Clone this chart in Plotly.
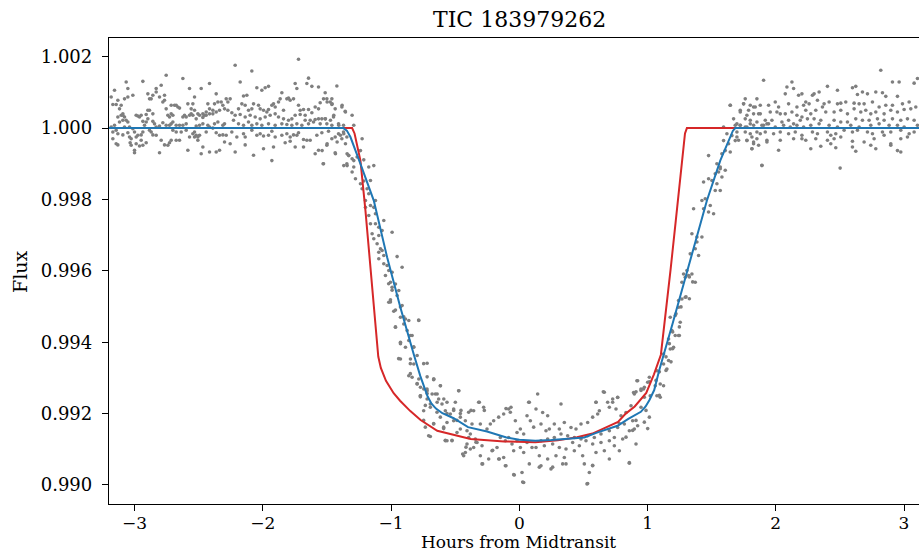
import plotly.graph_objects as go

# ---------------- data (hours from midtransit, relative flux) ----------------
pre_a = [(-3.183,1.00087),(-3.157,1.00106),(-3.170,1.00066),(-3.144,1.00066),(-3.105,1.00064),(-3.118,1.00054),
(-3.079,1.00082),(-3.066,1.00129),(-3.053,1.00111),(-3.053,1.00087),(-3.092,1.00040),(-3.105,1.00036),(-3.131,1.00031),
(-3.079,1.00031),(-3.157,1.00008),(-3.183,1.00003),(-3.170,0.99989),(-3.144,0.99994),(-3.131,0.99984),(-3.170,0.99970),
(-3.131,0.99953),(-3.092,0.99981),(-3.053,0.99987),(-3.040,0.99975),(-3.027,0.99970),(-3.035,0.99959),(-3.027,0.99952),
(-3.001,0.99938),(-3.001,0.99931),(-2.988,0.99956),(-2.962,0.99950),(-2.949,0.99981),(-2.936,0.99989),(-2.923,1.00008),
(-2.910,1.00017),(-2.897,1.00026),(-2.910,1.00038),(-2.897,1.00050),(-2.884,1.00082),(-2.897,1.00096),(-2.871,1.00082),
(-2.858,1.00092),(-2.832,1.00111),(-2.832,1.00101),(-2.793,1.00120),(-2.806,1.00087),(-2.780,1.00073),(-2.767,1.00078),
(-2.754,1.00148),(-2.754,1.00054),(-2.741,1.00036),(-2.728,1.00031),(-2.715,1.00064),(-2.689,1.00064),(-2.663,1.00059),
(-2.650,1.00056),(-2.624,1.00139),(-2.624,1.00031),(-2.611,1.00036),(-2.598,1.00031),(-2.585,1.00068),(-2.572,1.00111),
(-2.559,1.00054),(-2.546,1.00068),(-2.533,1.00087),(-2.520,1.00026),(-2.533,0.99989),(-2.520,0.99980),(-2.507,0.99975),
(-2.494,0.99980),(-2.481,1.00111),(-2.468,1.00040),(-2.455,1.00036),(-2.442,1.00036),(-2.429,1.00068),(-2.416,1.00125),
(-2.416,1.00040),(-2.390,1.00040),(-2.377,1.00068),(-2.364,1.00096),(-2.364,1.00045),(-2.351,1.00073),(-2.338,1.00050),
(-2.325,1.00073),(-2.312,1.00064),(-2.299,1.00054),(-2.286,1.00082),(-2.273,1.00073),(-2.273,1.00050),(-2.299,1.00012),
(-2.312,1.00008),(-2.286,0.99980),(-2.299,0.99961),(-2.338,0.99938),(-2.364,0.99933),(-2.416,0.99933),(-2.481,0.99928),
(-2.468,0.99947),(-2.507,0.99966),(-2.533,0.99975),(-2.572,0.99975),(-2.585,0.99938),(-2.637,0.99989),(-2.650,0.99966),
(-2.676,0.99966),(-2.676,0.99989),(-2.702,0.99994),(-2.715,0.99966),(-2.728,0.99959),(-2.741,0.99952),(-2.767,0.99953),
(-2.793,0.99966),(-2.806,0.99931),(-2.832,0.99980),(-2.858,0.99981),(-2.871,0.99989),(-2.884,0.99994),(-2.910,0.99959),
(-2.936,0.99952),(-2.949,0.99966),(-2.975,0.99980),(-2.988,0.99975),(-3.001,0.99989),(-3.014,0.99998),(-3.040,1.00003),
(-3.053,1.00017),(-3.066,1.00022),(-3.092,1.00022),(-3.118,1.00017),(-3.079,1.00003),(-3.144,0.99956),(-3.092,1.00036),
(-2.988,1.00036),(-2.975,1.00034),(-2.962,1.00031),(-2.949,1.00036),(-2.936,1.00019),(-2.858,1.00019),(-2.845,1.00012),
(-2.832,1.00003),(-2.806,1.00006),(-2.780,1.00015),(-2.754,1.00008),(-2.728,1.00008),(-2.715,1.00012),(-2.702,1.00017),
(-2.676,1.00008),(-2.650,1.00008),(-2.624,1.00008),(-2.598,1.00012),(-2.572,1.00036),(-2.559,1.00040),(-2.546,1.00036),
(-2.533,1.00050),(-2.507,1.00040),(-2.494,1.00036),(-2.468,1.00030),(-2.442,1.00045),(-2.416,1.00054),(-2.390,1.00050),
(-2.715,1.00040),(-2.702,1.00036),(-2.676,1.00064),(-2.767,1.00092),(-2.858,1.00040),(-2.884,1.00050),(-3.014,1.00092),
(-2.936,1.00131),(-3.131,1.00078),(-2.598,0.99994),(-2.546,0.99984),(-2.442,0.99989),(-2.429,1.00008),(-2.390,1.00000),
(-2.364,0.99987),(-2.338,0.99980),(-2.312,0.99981),(-2.351,1.00017),(-2.468,1.00012),(-2.520,1.00006),(-2.494,1.00008),
(-2.416,1.00003),(-2.377,1.00012)]

pre_b = [(-2.216,1.00176),(-2.086,1.00160),(-1.722,1.00193),(-2.177,1.00129),(-2.047,1.00113),(-2.008,1.00106),
(-1.982,1.00113),(-1.956,1.00117),(-1.852,1.00099),(-1.748,1.00125),(-1.735,1.00111),(-1.657,1.00125),(-1.644,1.00140),
(-1.618,1.00117),(-1.566,1.00115),(-1.514,1.00099),(-1.423,1.00118),(-2.255,1.00082),(-2.151,1.00090),(-2.125,1.00092),
(-2.164,1.00068),(-2.190,1.00054),(-2.138,1.00064),(-2.112,1.00050),(-2.086,1.00054),(-2.073,1.00068),(-2.034,1.00064),
(-2.021,1.00054),(-1.995,1.00050),(-1.969,1.00045),(-1.956,1.00052),(-1.930,1.00064),(-1.917,1.00068),(-1.904,1.00059),
(-1.878,1.00073),(-1.865,1.00082),(-1.839,1.00050),(-1.813,1.00082),(-1.800,1.00084),(-1.787,1.00078),(-1.761,1.00082),
(-1.722,1.00064),(-1.709,1.00050),(-1.683,1.00052),(-1.670,1.00036),(-1.644,1.00052),(-1.618,1.00043),(-1.592,1.00059),
(-1.566,1.00054),(-1.553,1.00071),(-1.527,1.00082),(-1.501,1.00082),(-1.475,1.00073),(-1.462,1.00066),(-1.462,1.00082),
(-1.436,1.00054),(-1.384,1.00059),(-1.358,1.00047),(-1.449,1.00031),(-1.514,1.00026),(-1.540,1.00026),(-1.566,1.00026),
(-1.592,1.00024),(-1.631,1.00022),(-1.670,1.00022),(-1.709,1.00038),(-1.748,1.00036),(-1.774,1.00026),(-1.800,1.00022),
(-1.839,1.00026),(-1.878,1.00031),(-1.904,1.00040),(-1.943,1.00036),(-1.982,1.00031),(-2.021,1.00026),(-2.060,1.00031),
(-2.099,1.00036),(-2.138,1.00031),(-2.177,1.00038),(-2.216,1.00036),(-2.242,1.00043),(-2.229,1.00022),(-2.190,1.00012),
(-2.151,1.00008),(-2.112,1.00017),(-2.086,1.00008),(-2.047,1.00012),(-2.008,1.00008),(-1.956,1.00012),(-1.904,1.00008),
(-1.852,1.00012),(-1.813,1.00010),(-1.774,1.00008),(-1.735,1.00012),(-1.696,1.00008),(-1.644,1.00012),(-1.605,1.00017),
(-1.553,1.00012),(-1.501,1.00012),(-1.462,1.00008),(-1.410,1.00012),(-1.371,1.00008),(-2.242,0.99989),(-2.203,0.99975),
(-2.151,0.99984),(-2.138,0.99975),(-2.086,0.99994),(-2.047,0.99980),(-2.021,0.99984),(-1.995,0.99978),(-1.956,0.99980),
(-1.930,0.99991),(-1.904,0.99975),(-1.852,0.99980),(-1.813,0.99984),(-1.787,0.99975),(-1.761,0.99981),(-1.735,0.99980),
(-1.722,0.99987),(-1.683,0.99968),(-1.657,0.99966),(-1.631,0.99966),(-1.579,0.99980),(-1.540,0.99987),(-1.488,0.99991),
(-1.436,0.99975),(-1.410,0.99984),(-2.255,0.99956),(-2.138,0.99953),(-1.995,0.99942),(-1.917,0.99947),(-1.826,0.99959),
(-1.787,0.99963),(-1.748,0.99947),(-1.683,0.99947),(-1.592,0.99928),(-1.566,0.99938),(-1.501,0.99952),(-2.216,0.99933),
(-2.073,0.99924),(-1.930,0.99909),(-1.527,0.99900),(-1.436,0.99931),(-1.462,0.99970),(-1.384,0.99970),(-1.371,0.99989),
(-1.345,0.99975),(-1.332,0.99924),(-1.345,0.99900)]

ingress = [(-1.499,1.00073),(-1.460,1.00068),(-1.382,1.00064),(-1.447,1.00036),(-1.512,1.00026),(-1.473,1.00022),
(-1.356,1.00045),(-1.304,1.00036),(-1.291,1.00008),(-1.408,1.00008),(-1.395,0.99980),(-1.369,0.99984),(-1.499,0.99956),
(-1.421,0.99961),(-1.538,0.99937),(-1.434,0.99928),(-1.343,0.99928),(-1.356,0.99956),(-1.330,0.99923),(-1.291,0.99909),
(-1.226,0.99970),(-1.239,0.99937),(-1.265,0.99919),(-1.304,0.99914),(-1.530,0.99900),(-1.369,0.99895),(-1.343,0.99895),
(-1.291,0.99891),(-1.304,0.99877),(-1.213,0.99911),(-1.174,0.99891),(-1.135,0.99895),(-1.278,0.99858),(-1.239,0.99844),
(-1.213,0.99852),(-1.161,0.99853),(-1.226,0.99830),(-1.187,0.99830),(-1.200,0.99797),(-1.174,0.99816),(-1.122,0.99797),
(-1.161,0.99783),(-1.135,0.99778),(-1.200,0.99778),(-1.174,0.99755),(-1.122,0.99760),(-1.057,0.99741),(-1.161,0.99732),
(-1.122,0.99732),(-1.096,0.99722),(-1.148,0.99704),(-1.070,0.99713),(-0.992,0.99708),(-1.135,0.99690),(-1.096,0.99699),
(-1.109,0.99676),(-1.083,0.99662),(-1.096,0.99652),(-1.070,0.99657),(-1.057,0.99643),(-0.953,0.99640),(-1.096,0.99634),
(-1.057,0.99620),(-1.031,0.99615),(-1.018,0.99601),(-0.992,0.99596),(-1.044,0.99587),(-0.914,0.99610),(-1.005,0.99568),
(-0.966,0.99563),(-0.992,0.99554),(-0.940,0.99545),(-1.018,0.99512),(-1.005,0.99519),(-0.953,0.99531),(-0.979,0.99487),
(-0.914,0.99503),(-0.927,0.99470),(-0.888,0.99465),(-0.862,0.99461),(-0.966,0.99442),(-0.901,0.99451),(-0.875,0.99433),
(-0.836,0.99419),(-0.927,0.99400),(-0.862,0.99405),(-0.888,0.99386),(-0.823,0.99386),(-0.784,0.99461),(-0.797,0.99363),
(-0.849,0.99353),(-0.927,0.99353),(-0.823,0.99339),(-0.719,0.99341),(-0.862,0.99306),(-0.836,0.99302),(-0.784,0.99297),
(-0.797,0.99283),(-0.667,0.99297),(-0.771,0.99274),(-0.745,0.99269),(-0.719,0.99264),(-0.680,0.99255),(-0.641,0.99255),
(-0.615,0.99278),(-0.771,0.99250),(-0.719,0.99241),(-0.589,0.99241),(-0.472,0.99264),
(-1.019,0.99564),(-0.992,0.99546),(-1.005,0.99513),(-0.966,0.99490),(-0.927,0.99499),(-0.901,0.99471),(-0.966,0.99443),
(-0.850,0.99419),(-0.927,0.99396),(-0.824,0.99387),(-0.785,0.99462),(-0.941,0.99354),(-0.850,0.99340),(-0.746,0.99340),
(-0.850,0.99312),(-0.797,0.99284),(-0.719,0.99303),(-0.668,0.99295),(-0.772,0.99247),(-0.719,0.99256),(-0.733,0.99223),
(-0.694,0.99218),(-0.641,0.99232),(-0.564,0.99232),(-0.746,0.99181),(-0.668,0.99172),(-0.616,0.99190),(-0.564,0.99200),
(-0.512,0.99209),(-0.694,0.99136),(-0.577,0.99125),(-0.525,0.99125),(-0.590,0.99158),(-0.486,0.99181),(-0.460,0.99200)]

bottom = [(-0.772,0.99250),(-0.720,0.99269),(-0.668,0.99297),(-0.616,0.99278),(-0.655,0.99255),(-0.694,0.99227),
(-0.746,0.99208),(-0.629,0.99241),(-0.603,0.99227),(-0.642,0.99204),(-0.577,0.99208),(-0.538,0.99199),(-0.512,0.99213),
(-0.499,0.99232),(-0.473,0.99264),(-0.564,0.99175),(-0.512,0.99180),(-0.460,0.99190),(-0.421,0.99180),(-0.395,0.99204),
(-0.356,0.99208),(-0.317,0.99232),(-0.278,0.99218),(-0.304,0.99171),(-0.369,0.99171),(-0.408,0.99152),(-0.460,0.99157),
(-0.486,0.99147),(-0.590,0.99162),(-0.668,0.99171),(-0.733,0.99162),(-0.707,0.99138),(-0.577,0.99124),(-0.525,0.99124),
(-0.382,0.99143),(-0.343,0.99129),(-0.330,0.99119),(-0.252,0.99157),(-0.226,0.99171),(-0.200,0.99180),(-0.161,0.99190),
(-0.122,0.99199),(-0.083,0.99213),(-0.070,0.99204),(-0.031,0.99180),(0.008,0.99157),(-0.018,0.99147),(0.034,0.99143),
(0.073,0.99232),(0.086,0.99180),(0.060,0.99194),(0.112,0.99162),(-0.148,0.99133),(-0.109,0.99124),(-0.057,0.99115),
(-0.174,0.99105),(-0.213,0.99096),(-0.291,0.99110),(-0.356,0.99105),(-0.408,0.99115),(-0.421,0.99091),(-0.382,0.99101),
(-0.304,0.99082),(-0.239,0.99073),(-0.161,0.99073),(-0.122,0.99077),(-0.044,0.99096),(0.008,0.99105),(0.034,0.99091),
(0.099,0.99105),(-0.291,0.99059),(-0.109,0.99054),(-0.044,0.99029),(0.021,0.99035),(0.034,0.99007),(-0.434,0.99082),
(-0.395,0.99133),(-0.564,0.99124),(-0.083,0.99133),(-0.018,0.99124),(0.060,0.99119),
(0.143,0.99255),(0.130,0.99213),(0.182,0.99203),(0.221,0.99194),(0.325,0.99227),(0.169,0.99171),(0.208,0.99152),
(0.234,0.99157),(0.273,0.99171),(0.312,0.99157),(0.351,0.99175),(0.403,0.99161),(0.442,0.99157),(0.481,0.99171),
(0.533,0.99175),(0.572,0.99190),(0.611,0.99199),(0.598,0.99232),(0.663,0.99260),(0.624,0.99208),(0.689,0.99232),
(0.728,0.99241),(0.767,0.99246),(0.754,0.99213),(0.793,0.99194),(0.832,0.99203),(0.871,0.99222),(0.897,0.99255),
(0.923,0.99292),(0.949,0.99269),(0.975,0.99274),(1.001,0.99288),(1.014,0.99302),(0.975,0.99246),(0.949,0.99218),
(0.884,0.99180),(0.897,0.99157),(0.923,0.99166),(0.819,0.99171),(0.767,0.99161),(0.702,0.99152),(0.637,0.99143),
(0.585,0.99133),(0.533,0.99138),(0.481,0.99129),(0.429,0.99133),(0.377,0.99138),(0.325,0.99143),(0.273,0.99133),
(0.221,0.99129),(0.169,0.99124),(0.130,0.99105),(0.195,0.99110),(0.260,0.99115),(0.312,0.99105),(0.364,0.99101),
(0.416,0.99119),(0.468,0.99110),(0.520,0.99124),(0.572,0.99115),(0.637,0.99119),(0.702,0.99124),(0.741,0.99133),
(0.806,0.99129),(0.858,0.99152),(0.741,0.99110),(0.663,0.99096),(0.598,0.99091),(0.494,0.99082),(0.429,0.99096),
(0.351,0.99077),(0.286,0.99082),(0.221,0.99073),(0.156,0.99082),(0.247,0.99045),(0.169,0.99054),(0.364,0.99059),
(0.507,0.99059),(0.572,0.99054),(0.702,0.99073),(0.858,0.99063),(0.546,0.99035),(0.533,0.99004),(0.780,0.99096),
(0.910,0.99115),
(0.598,0.99232),(0.655,0.99261),(0.702,0.99218),(0.728,0.99232),(0.767,0.99245),(0.780,0.99172),(0.832,0.99134),
(0.528,0.99003),(0.572,0.99055),(0.026,0.99008),(-0.039,0.99028),(0.078,0.99232),(-0.104,0.99214),(-0.065,0.99218),
(-0.312,0.99232),(-0.273,0.99209),(-0.377,0.99209),(-0.455,0.99209),(-0.442,0.99087),(-0.286,0.99059),(-0.104,0.99054),
(-0.156,0.99073),(0.156,0.99050),(0.260,0.99050),(0.338,0.99059),(-0.338,0.99120),(-0.416,0.99106),(-0.208,0.99097),
(0.078,0.99059)]

egress = [(0.917,0.99292),(0.891,0.99259),(0.969,0.99269),(1.021,0.99250),(1.073,0.99250),(1.099,0.99246),(1.060,0.99278),
(1.099,0.99283),(1.125,0.99278),(1.073,0.99320),(1.125,0.99339),(1.151,0.99325),(1.164,0.99349),(1.125,0.99367),
(1.177,0.99381),(1.203,0.99386),(1.164,0.99409),(1.216,0.99419),(1.242,0.99419),(1.190,0.99433),(1.255,0.99456),
(1.177,0.99470),(1.216,0.99475),(1.242,0.99498),(1.268,0.99521),(1.294,0.99526),(1.242,0.99517),(1.268,0.99568),
(1.294,0.99582),(1.320,0.99587),(1.372,0.99568),(1.281,0.99591),(1.307,0.99601),(1.346,0.99591),(1.333,0.99648),
(1.372,0.99662),(1.385,0.99681),(1.398,0.99643),(1.346,0.99704),(1.385,0.99695),(1.424,0.99695),(1.359,0.99774),
(1.424,0.99797),(1.450,0.99802),(1.437,0.99774),(1.476,0.99765),(1.489,0.99783),(1.515,0.99760),(1.437,0.99849),
(1.476,0.99858),(1.502,0.99853),(1.528,0.99825),(1.541,0.99844),(1.567,0.99825),(1.528,0.99872),(1.554,0.99877),
(1.580,0.99863),(1.541,0.99900),(1.567,0.99886),(1.606,0.99882),(1.476,0.99923),(1.580,0.99928),(1.606,0.99937),
(1.632,0.99956),(1.645,0.99933),(1.593,0.99965),(1.619,0.99984),(1.658,0.99979),(1.684,0.99965),(1.697,0.99975),
(1.567,0.99891),(1.593,1.00003),(1.684,1.00008),(1.723,1.00008),(1.762,1.00003),(1.775,0.99965),(1.814,0.99975),
(1.827,0.99956),(1.814,0.99942),(1.853,0.99970),(1.892,0.99895),(1.931,0.99961),(1.723,1.00050),(1.775,1.00036),
(1.827,1.00059),(1.866,1.00040),(1.645,1.00064),(1.749,1.00068),(1.801,1.00012),(1.905,1.00008),(1.931,1.00012),
(1.879,0.99984),
(1.352,0.99569),(1.326,0.99583),(1.300,0.99527),(1.326,0.99522),(1.261,0.99499),(1.222,0.99480),(1.248,0.99443),
(1.196,0.99429),(1.248,0.99419),(1.170,0.99396),(1.196,0.99382),(1.144,0.99359),(1.183,0.99345),(1.092,0.99317),
(1.144,0.99321),(1.066,0.99293),(1.092,0.99251),(1.014,0.99289),(0.949,0.99265),(0.910,0.99261),(0.988,0.99209),
(1.014,0.99190),(0.975,0.99176),(1.001,0.99158),(0.910,0.99181),(0.884,0.99153),(0.858,0.99061)]

post = [(1.905,1.00134),(2.087,1.00115),(2.126,1.00129),(2.139,1.00111),(2.178,1.00092),(2.074,1.00096),(2.204,1.00096),
(1.762,1.00082),(1.853,1.00082),(1.645,1.00064),(1.749,1.00068),(1.801,1.00064),(1.840,1.00059),(1.879,1.00064),
(1.944,1.00064),(1.996,1.00073),(2.022,1.00059),(2.100,1.00068),(2.165,1.00059),(2.217,1.00064),(1.723,1.00045),
(1.788,1.00050),(1.827,1.00040),(1.879,1.00040),(1.957,1.00045),(2.009,1.00045),(2.035,1.00040),(2.074,1.00040),
(2.126,1.00045),(2.165,1.00036),(2.204,1.00031),(1.671,1.00026),(1.762,1.00026),(1.801,1.00022),(1.853,1.00017),
(1.918,1.00022),(1.970,1.00022),(2.048,1.00017),(2.100,1.00022),(2.139,1.00012),(2.191,1.00022),(1.697,1.00012),
(1.723,1.00008),(1.775,1.00003),(1.827,1.00008),(1.892,1.00008),(1.944,1.00012),(1.996,1.00003),(2.061,1.00008),
(2.113,1.00003),(2.165,1.00008),(2.217,1.00003),(1.697,0.99989),(1.762,0.99989),(1.801,0.99984),(1.853,0.99989),
(1.918,0.99989),(1.983,0.99984),(2.035,0.99989),(2.100,0.99984),(2.152,0.99989),(2.204,0.99980),(1.710,0.99966),
(1.775,0.99966),(1.827,0.99961),(1.866,0.99952),(1.814,0.99942),(1.931,0.99966),(2.035,0.99966),(2.139,0.99970),
(2.204,0.99970),(2.022,0.99938),(1.892,0.99896),
(2.819,1.00162),(2.910,1.00129),(2.962,1.00129),(3.079,1.00126),(3.105,1.00139),(2.403,1.00117),(2.299,1.00096),
(2.338,1.00101),(2.286,1.00092),(2.481,1.00106),(2.598,1.00113),(2.624,1.00117),(2.637,1.00094),(2.676,1.00101),
(2.715,1.00096),(2.780,1.00101),(2.832,1.00099),(2.858,1.00089),(2.949,1.00089),(2.234,1.00073),(2.260,1.00068),
(2.325,1.00078),(2.377,1.00068),(2.416,1.00073),(2.481,1.00068),(2.507,1.00070),(2.546,1.00073),(2.611,1.00070),
(2.650,1.00068),(2.689,1.00068),(2.754,1.00073),(2.806,1.00059),(2.858,1.00064),(2.910,1.00064),(2.988,1.00068),
(3.040,1.00073),(2.234,1.00050),(2.273,1.00040),(2.312,1.00050),(2.364,1.00059),(2.390,1.00045),(2.455,1.00045),
(2.507,1.00050),(2.559,1.00040),(2.611,1.00054),(2.663,1.00045),(2.702,1.00050),(2.741,1.00040),(2.780,1.00045),
(2.845,1.00040),(2.897,1.00050),(2.949,1.00045),(3.001,1.00052),(3.053,1.00054),(3.092,1.00059),(2.247,1.00026),
(2.299,1.00026),(2.351,1.00022),(2.455,1.00022),(2.507,1.00017),(2.559,1.00017),(2.624,1.00026),(2.676,1.00022),
(2.728,1.00022),(2.793,1.00026),(2.845,1.00022),(2.910,1.00026),(2.975,1.00022),(3.027,1.00026),(3.079,1.00022),
(2.273,1.00008),(2.338,1.00012),(2.416,1.00008),(2.481,1.00003),(2.585,1.00008),(2.650,1.00003),(2.741,1.00008),
(2.806,1.00012),(2.884,1.00008),(2.949,1.00008),(3.001,1.00003),(3.105,1.00008),(2.286,0.99989),(2.325,0.99984),
(2.403,0.99989),(2.429,0.99980),(2.468,0.99984),(2.533,0.99994),(2.598,0.99989),(2.637,0.99994),(2.715,0.99989),
(2.754,0.99984),(2.832,0.99989),(2.897,0.99989),(2.975,0.99994),(3.040,0.99984),(3.079,0.99989),(2.234,0.99966),
(2.312,0.99970),(2.403,0.99966),(2.455,0.99970),(2.507,0.99975),(2.598,0.99963),(2.689,0.99961),(2.767,0.99970),
(2.845,0.99980),(2.897,0.99956),(2.975,0.99970),(3.027,0.99975),(2.273,0.99942),(2.351,0.99949),(2.429,0.99956),
(2.468,0.99945),(2.741,0.99952),(2.780,0.99942),(2.897,0.99952),(2.949,0.99937),(2.975,0.99933),(2.624,0.99935),
(2.502,0.99888),(2.598,0.99947)]

# model curves
red_t = [-3.2, -1.304, -1.285, -1.265, -1.239, -1.200, -1.148, -1.115, -1.100, -1.080, -1.040, -0.980, -0.930, -0.850,
         -0.770, -0.640, -0.460, -0.380, -0.120, 0.000, 0.125, 0.300, 0.450, 0.570, 0.700, 0.770, 0.830, 0.900, 0.990,
         1.050, 1.104, 1.140, 1.180, 1.220, 1.250, 1.275, 1.292, 1.307, 3.12]
red_f = [1.0, 1.0, 0.99985, 0.99955, 0.99909, 0.99769, 0.99563, 0.99410, 0.99360, 0.99328, 0.99292, 0.99257, 0.99236,
         0.99207, 0.99182, 0.99152, 0.99136, 0.99129, 0.99122, 0.99120, 0.99120, 0.99125, 0.99134, 0.99144, 0.99165,
         0.99177, 0.99200, 0.99220, 0.99258, 0.99310, 0.99365, 0.99475, 0.99605, 0.99740, 0.99850, 0.99935, 0.99985,
         1.0, 1.0]

blue_t = [-3.2, -1.372, -1.345, -1.317, -1.239, -1.135, -1.031, -0.928, -0.824, -0.772, -0.715, -0.685, -0.650,
          -0.600, -0.512, -0.400, -0.252, -0.100, 0.000, 0.125, 0.250, 0.350, 0.450, 0.507, 0.600, 0.700, 0.766, 0.850,
          0.948, 0.985, 1.015, 1.052, 1.090, 1.195, 1.312, 1.463, 1.567, 1.630, 1.665, 1.684, 3.12]
blue_f = [1.0, 1.0, 0.99993, 0.99975, 0.99900, 0.99797, 0.99638, 0.99498, 0.99367, 0.99305, 0.99248, 0.99228, 0.99214,
          0.99201, 0.99187, 0.99162, 0.99150, 0.99133, 0.99127, 0.99124, 0.99126, 0.99128, 0.99131, 0.99133, 0.99146,
          0.99158, 0.99166, 0.99185, 0.99205, 0.99220, 0.99238, 0.99266, 0.99320, 0.99452, 0.99600, 0.99797, 0.99909,
          0.99965, 0.99992, 1.0, 1.0]

x_ticks = [-3, -2, -1, 0, 1, 2, 3]
x_tick_text = ["\u22123", "\u22122", "\u22121", "0", "1", "2", "3"]
y_ticks = [0.990, 0.992, 0.994, 0.996, 0.998, 1.000, 1.002]
y_tick_text = ["0.990", "0.992", "0.994", "0.996", "0.998", "1.000", "1.002"]

title_text = "TIC 183979262"
x_label = "Hours from Midtransit"
y_label = "Flux"

# ---------------- figure ----------------
pts = pre_a + pre_b + ingress + bottom + egress + post
px = [p[0] for p in pts]
py = [p[1] for p in pts]

FONT = "DejaVu Serif"
fig = go.Figure()
fig.add_trace(go.Scatter(x=px, y=py, mode="markers",
                         marker=dict(color="#7f7f7f", size=3.6, line=dict(width=0)),
                         showlegend=False, hoverinfo="skip"))
fig.add_trace(go.Scatter(x=red_t, y=red_f, mode="lines",
                         line=dict(color="#d62728", width=2), showlegend=False))
fig.add_trace(go.Scatter(x=blue_t, y=blue_f, mode="lines",
                         line=dict(color="#1f77b4", width=2), showlegend=False))

L, R, T, B = 109, 0, 38, 49
W, H = 919, 553
pw, ph = W - L - R, H - T - B

fig.update_layout(
    width=W, height=H,
    margin=dict(l=L, r=R, t=T, b=B, pad=0),
    paper_bgcolor="white", plot_bgcolor="white",
    font=dict(family=FONT, size=18, color="black"),
    showlegend=False,
    xaxis=dict(range=[-3.2, 3.117], tickvals=x_ticks, ticktext=x_tick_text,
               showgrid=False, zeroline=False, showline=True, linecolor="black", linewidth=1.3,
               mirror=True, ticks="outside", ticklen=6, tickwidth=1.2, tickcolor="black",
               tickfont=dict(family=FONT, size=17), ticklabelstandoff=-3),
    yaxis=dict(range=[0.989467, 1.002525], tickvals=y_ticks, ticktext=y_tick_text,
               showgrid=False, zeroline=False, showline=True, linecolor="black", linewidth=1.3,
               ticks="outside", ticklen=6, tickwidth=1.2, tickcolor="black",
               tickfont=dict(family=FONT, size=18), ticklabelstandoff=6),
    annotations=[
        dict(text=title_text, xref="paper", yref="paper",
             x=(519 - L) / pw, y=1 + (T - 20) / ph, xanchor="center", yanchor="middle",
             showarrow=False, font=dict(family=FONT, size=22)),
        dict(text=x_label, xref="paper", yref="paper", borderpad=0,
             x=(518 - L) / pw, y=-(H - 0.5 - (H - B)) / ph, xanchor="center", yanchor="bottom",
             showarrow=False, font=dict(family=FONT, size=17)),
        dict(text=y_label, xref="paper", yref="paper", textangle=-90,
             x=(20 - L) / pw, y=(H - B - 272) / ph, xanchor="center", yanchor="middle",
             showarrow=False, font=dict(family=FONT, size=19)),
    ],
)

fig.write_html("out.html")
